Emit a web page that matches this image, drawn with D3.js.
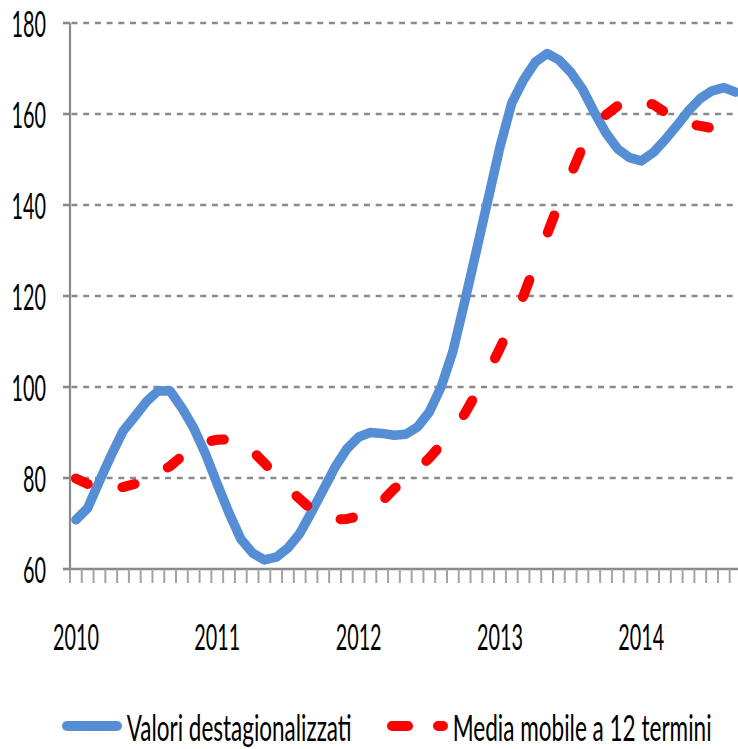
<!DOCTYPE html>
<html>
<head>
<meta charset="utf-8">
<script src="https://cdn.jsdelivr.net/npm/d3@7"></script>
<style>
  body { margin: 0; background: #fff; }
  svg { display: block; }
  text { font-family: Lato, "Noto Sans", sans-serif; font-size: 37px; fill: #000; }
</style>
</head>
<body>
<div id="chart"></div>
<script>
// Year labels (placed on January of each year)
var years = ["2010", "2011", "2012", "2013", "2014"];
// number of monthly categories shown (Jan 2010 - Sep 2014)
var monthsShown = 57;

var yTicks = [60, 80, 100, 120, 140, 160, 180];
var gridTicks = [80, 100, 120, 140, 160, 180];

var seriesNames = ["Valori destagionalizzati", "Media mobile a 12 termini"];

// Valori destagionalizzati (monthly)
var destag = [70.8, 73.4, 79.3, 85.0, 90.3, 93.5, 96.8, 99.2, 99.1, 95.4,
  91.0, 85.3, 78.7, 72.3, 66.6, 63.5, 62.0, 62.6, 64.6, 67.8,
  72.5, 77.4, 82.4, 86.4, 89.0, 90.0, 89.8, 89.4, 89.6, 91.2,
  94.5, 100.0, 107.8, 118.7, 130.0, 141.4, 152.8, 162.4, 167.5, 171.4,
  173.3, 171.9, 169.2, 165.5, 160.4, 155.8, 152.3, 150.4, 149.7, 151.5,
  154.3, 157.4, 160.7, 163.4, 165.1, 165.8, 164.8];

// Media mobile a 12 termini (monthly)
var media = [79.9, 78.7, 78.0, 77.9, 78.0, 78.7, 79.8, 81.1, 82.6, 84.8,
  86.8, 87.9, 88.4, 88.5, 87.5, 85.9, 83.3, 80.4, 77.8, 75.4,
  73.1, 71.8, 70.9, 71.0, 71.6, 73.2, 74.9, 77.6, 79.8, 81.8,
  84.4, 87.3, 90.5, 94.1, 98.7, 103.3, 108.5, 114.3, 120.1, 127.0,
  133.6, 140.4, 146.6, 152.7, 156.9, 159.8, 161.8, 162.6, 162.6, 162.1,
  160.4, 158.9, 157.8, 157.4, 156.9, 156.8, 156.8];

var svgWidth = 738;
var svgHeight = 749;

// plot area (right side runs past the picture edge, as in the original)
var plotLeft = 70;
var plotRight = 741.5;
var plotTop = 23;
var plotBottom = 569;

var svg = d3.select("#chart")
  .append("svg")
  .attr("width", svgWidth)
  .attr("height", svgHeight);

var x = d3.scaleLinear()
  .domain([0, monthsShown])
  .range([plotLeft, plotRight]);

var y = d3.scaleLinear()
  .domain([60, 180])
  .range([plotBottom, plotTop]);

var axisGray = "#8a8a8a";

// measure text so it can be squeezed like the condensed original font
function textWidth(str) {
  var t = svg.append("text").text(str);
  var w = t.node().getComputedTextLength();
  t.remove();
  return w;
}
var kNum = 46 / textWidth("2010");
var kLeg1 = 225 / textWidth(seriesNames[0]);
var kLeg2 = 259 / textWidth(seriesNames[1]);

// gridlines
svg.append("g")
  .selectAll("line")
  .data(gridTicks)
  .enter()
  .append("line")
  .attr("x1", plotLeft + 1.5)
  .attr("x2", plotRight)
  .attr("y1", d => y(d))
  .attr("y2", d => y(d))
  .attr("stroke", axisGray)
  .attr("stroke-width", 2.6)
  .attr("stroke-dasharray", "6,5.7");

// x axis: a tick between every month
var xAxis = svg.append("g")
  .attr("transform", `translate(0, ${plotBottom})`)
  .call(d3.axisBottom(x)
    .tickValues(d3.range(monthsShown + 1))
    .tickSize(14)
    .tickSizeOuter(0)
    .tickFormat("")
    .offset(0));
xAxis.select(".domain").attr("stroke", axisGray).attr("stroke-width", 2.7);
xAxis.selectAll(".tick line").attr("stroke", "#a3a3a3").attr("stroke-width", 2);

// y axis
var yAxis = svg.append("g")
  .attr("transform", `translate(${plotLeft}, 0)`)
  .call(d3.axisLeft(y)
    .tickValues(yTicks)
    .tickSize(7)
    .tickSizeOuter(0)
    .tickFormat("")
    .offset(0));
yAxis.select(".domain").attr("stroke", axisGray).attr("stroke-width", 2.2);
yAxis.selectAll(".tick line").attr("stroke", axisGray).attr("stroke-width", 2.6);

// y labels
svg.append("g")
  .selectAll("text")
  .data(yTicks)
  .enter()
  .append("text")
  .attr("text-anchor", "end")
  .attr("transform", d => `translate(46, ${y(d) + 13.5}) scale(${kNum}, 1)`)
  .text(d => d);

// year labels under January
svg.append("g")
  .selectAll("text")
  .data(years)
  .enter()
  .append("text")
  .attr("text-anchor", "middle")
  .attr("transform", (d, i) => `translate(${x(i * 12 + 0.5)}, 650) scale(${kNum}, 1)`)
  .text(d => d);

// blue series
var blueColor = "#558ed5";
var line = d3.line()
  .x((d, i) => x(i + 0.5))
  .y(d => y(d));

svg.append("path")
  .datum(destag)
  .attr("d", line)
  .attr("fill", "none")
  .attr("stroke", blueColor)
  .attr("stroke-width", 9.5)
  .attr("stroke-linejoin", "round")
  .attr("stroke-linecap", "round");

// red dashed series: the original dashes are measured in a horizontally
// stretched space (the picture was squeezed), so cut the dashes by hand
function cutDashes(pts, s, on, off) {
  var out = [], cur = [pts[0]], drawing = true, left = on;
  for (var k = 1; k < pts.length; k++) {
    var a = pts[k - 1], b = pts[k];
    var len = Math.hypot((b[0] - a[0]) / s, b[1] - a[1]);
    var t = 0;
    while (len - t > left) {
      t += left;
      var p = [a[0] + (b[0] - a[0]) * t / len, a[1] + (b[1] - a[1]) * t / len];
      if (drawing) { cur.push(p); out.push(cur); } else { cur = [p]; }
      drawing = !drawing;
      left = drawing ? on : off;
    }
    left -= len - t;
    if (drawing) cur.push(b);
  }
  if (drawing && cur.length > 1) out.push(cur);
  return out;
}

var redPts = media.map((d, i) => [x(i + 0.5), y(d)]);
svg.append("g")
  .selectAll("path")
  .data(cutDashes(redPts, 0.62, 20, 56))
  .enter()
  .append("path")
  .attr("d", d3.line())
  .attr("fill", "none")
  .attr("stroke", "#ff0000")
  .attr("stroke-width", 10)
  .attr("stroke-linejoin", "round")
  .attr("stroke-linecap", "round");

// legend
var legendY = 726;
var legend = svg.append("g");
legend.append("line")
  .attr("x1", 67).attr("x2", 117)
  .attr("y1", legendY).attr("y2", legendY)
  .attr("stroke", blueColor)
  .attr("stroke-width", 10)
  .attr("stroke-linecap", "round");
legend.append("text")
  .attr("transform", `translate(126.7, ${legendY + 15}) scale(${kLeg1}, 1)`)
  .text(seriesNames[0]);

legend.append("line")
  .attr("x1", 392).attr("x2", 443)
  .attr("y1", legendY).attr("y2", legendY)
  .attr("stroke", "#ff0000")
  .attr("stroke-width", 10)
  .attr("stroke-linecap", "round")
  .attr("stroke-dasharray", "16,30");
legend.append("text")
  .attr("transform", `translate(452.7, ${legendY + 15}) scale(${kLeg2}, 1)`)
  .text(seriesNames[1]);
</script>
</body>
</html>
